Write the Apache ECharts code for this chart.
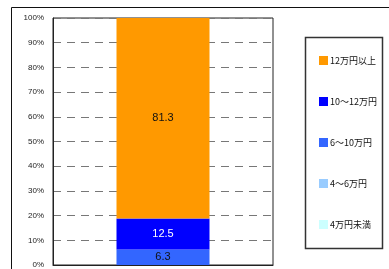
<!DOCTYPE html>
<html>
<head>
<meta charset="utf-8">
<script src="https://cdn.jsdelivr.net/npm/echarts@6/dist/echarts.min.js"></script>
<style>
  html, body { margin: 0; padding: 0; background: #fff; }
  #chart { width: 389px; height: 269px; }
</style>
</head>
<body>
<div id="chart"></div>
<script>
// stacked from bottom to top
var categories = ['全体']
var seriesNames = ['4万円未満', '4～6万円', '6～10万円', '10～12万円', '12万円以上']
var seriesValues = [0, 0, 6.3, 12.5, 81.3]
var colors = ['#CCFFFF', '#99CCFF', '#3366FF', '#0000FF', '#FF9900']
var labelColors = ['#000', '#000', '#111', '#fff', '#111']
var yTicks = [0, 10, 20, 30, 40, 50, 60, 70, 80, 90, 100]

var chart = echarts.init(document.getElementById('chart'))

var series = []
for (var i = 0; i < seriesNames.length; i++) {
  series.push({
    name: seriesNames[i],
    type: 'bar',
    stack: 'total',
    barWidth: 93,
    data: [seriesValues[i]],
    itemStyle: { color: colors[i] },
    label: {
      show: seriesValues[i] > 0,
      position: 'inside',
      color: labelColors[i],
      fontSize: 11,
      fontFamily: 'Liberation Sans'
    }
  })
}

var option = {
  animation: false,
  grid: {
    left: 53,
    right: 116,
    top: 18,
    bottom: 3,
    show: true,
    borderColor: '#222',
    borderWidth: 1
  },
  legend: {
    orient: 'vertical',
    left: 314,
    top: 51,
    itemWidth: 9,
    itemHeight: 9,
    itemGap: 32,
    icon: 'rect',
    data: seriesNames.slice().reverse(),
    textStyle: { fontSize: 9, color: '#111', fontFamily: 'Noto Sans CJK JP', padding: [0, 0, 0, -3] }
  },
  xAxis: {
    type: 'category',
    data: categories,
    axisLine: { show: true, lineStyle: { color: '#222' } },
    axisTick: { show: false },
    axisLabel: { show: false }
  },
  yAxis: {
    type: 'value',
    min: yTicks[0],
    max: yTicks[yTicks.length - 1],
    interval: 10,
    axisLine: { show: true, lineStyle: { color: '#222' } },
    axisTick: { show: false },
    axisLabel: {
      formatter: '{value}%',
      fontSize: 8,
      color: '#222',
      margin: 9,
      fontFamily: 'Liberation Sans'
    },
    splitLine: {
      show: true,
      lineStyle: { color: '#777', type: [8, 6], width: 1 }
    }
  },
  graphic: [
    {
      type: 'rect',
      shape: { x: 11.5, y: 7.5, width: 400, height: 300 },
      style: { fill: 'none', stroke: '#111', lineWidth: 1 },
      z: -1
    },
    {
      type: 'rect',
      shape: { x: 305.5, y: 37.5, width: 77, height: 211 },
      style: { fill: 'none', stroke: '#333', lineWidth: 1.5 },
      z: -1
    }
  ],
  series: series
}
chart.setOption(option)
</script>
</body>
</html>
